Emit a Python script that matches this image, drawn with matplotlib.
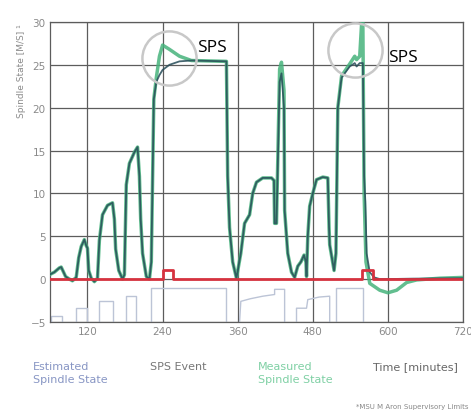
import matplotlib
matplotlib.use("Agg")
import matplotlib.pyplot as plt

plt.rcParams['font.family'] = ['DejaVu Sans']

# measured spindle state (green)
t_meas = [59, 67, 75, 78, 85, 91, 96, 102, 106, 110, 115, 118, 120, 122, 126, 131, 136,
          139, 144, 152, 160, 163, 165, 170, 176, 179, 182, 187, 195, 200, 203, 205, 208,
          214, 219, 222, 226, 230, 235, 240, 251, 267, 286, 342, 344, 347, 352, 358, 365,
          371, 379, 384, 390, 400, 414, 418, 419, 422, 427, 430, 434, 435, 440, 446, 451,
          456, 461, 466, 469, 470, 472, 475, 480, 486, 496, 504, 506, 507, 514, 517, 520,
          526, 539, 547, 550, 555, 558, 560, 562, 565, 571, 587, 600, 614, 630, 646, 683, 723]
v_meas = [0.5, 0.8, 1.3, 1.4, 0.3, 0.0, -0.2, 0.2, 2.5, 3.8, 4.6, 3.9, 3.6, 1.0, 0.1, -0.3, 0.1,
          4.5, 7.5, 8.6, 8.9, 7.0, 3.5, 1.0, 0.0, 0.5, 11.0, 13.5, 14.8, 15.4, 12.0, 7.0, 3.0,
          0.3, 0.0, 2.0, 21.0, 23.5, 26.0, 27.3, 26.8, 26.0, 25.5, 25.4, 12.0, 6.0, 2.0, 0.1, 3.0,
          6.5, 7.5, 10.0, 11.3, 11.8, 11.8, 11.5, 6.5, 6.5, 24.5, 25.3, 22.0, 8.0, 3.0, 0.8, 0.2,
          1.5, 2.0, 2.8, 2.0, 0.3, 5.0, 8.5, 10.0, 11.6, 11.9, 11.8, 6.0, 4.0, 1.0, 3.0, 20.0,
          23.7, 25.1, 26.0, 25.6, 26.0, 29.8, 30.0, 10.0, 2.0, -0.5, -1.3, -1.6, -1.3, -0.4, -0.1, 0.1, 0.2]

# estimated spindle state (dark)
t_est = [59, 67, 75, 78, 85, 91, 96, 102, 106, 110, 115, 118, 120, 122, 126, 131, 136,
         139, 144, 152, 160, 163, 165, 170, 176, 179, 182, 187, 195, 200, 203, 205, 208,
         214, 219, 222, 226, 230, 235, 240, 251, 267, 286, 342, 344, 347, 352, 358, 365,
         371, 379, 384, 390, 400, 414, 418, 419, 422, 427, 430, 434, 435, 440, 446, 451,
         456, 461, 466, 469, 470, 472, 475, 480, 486, 496, 504, 506, 507, 514, 517, 520,
         526, 539, 547, 550, 555, 560, 562, 564, 566, 571, 578, 587, 600, 640, 723]
v_est = [0.5, 0.8, 1.3, 1.4, 0.3, 0.0, -0.2, 0.2, 2.5, 3.8, 4.6, 3.9, 3.6, 1.0, 0.1, -0.3, 0.1,
         4.5, 7.5, 8.6, 8.9, 7.0, 3.5, 1.0, 0.0, 0.5, 11.0, 13.5, 14.8, 15.4, 12.0, 7.0, 3.0,
         0.3, 0.0, 2.0, 21.0, 23.0, 23.8, 24.4, 25.0, 25.4, 25.5, 25.4, 12.0, 6.0, 2.0, 0.1, 3.0,
         6.5, 7.5, 10.0, 11.3, 11.8, 11.8, 11.5, 6.5, 6.5, 23.0, 24.0, 20.0, 8.0, 3.0, 0.8, 0.2,
         1.5, 2.0, 2.8, 2.0, 0.3, 5.0, 8.5, 10.0, 11.6, 11.9, 11.8, 6.0, 4.0, 1.0, 3.0, 20.0,
         23.5, 24.8, 25.2, 24.8, 25.2, 25.2, 12.0, 9.0, 3.0, 0.8, 0.2, 0.0, 0.0, 0.05, 0.1]

# SPS events
sps_start = [240, 558]
sps_end = [256, 576]
sps_level = 1.0

# supervisory limit outlines (bottom)
limits = [
    ([62, 62, 80, 80], [-5, -4.3, -4.3, -5]),
    ([101, 101, 120, 120], [-5, -3.4, -3.4, -5]),
    ([139, 139, 160, 160], [-5, -2.6, -2.6, -5]),
    ([181, 181, 198, 198], [-5, -2.0, -2.0, -5]),
    ([222, 222, 342, 342], [-5, -1.0, -1.0, -5]),
    ([363, 365, 380, 400, 419, 419, 435, 435], [-5, -2.6, -2.3, -2.0, -1.8, -1.2, -1.2, -5]),
    ([454, 454, 470, 472, 490, 507, 507], [-5, -3.4, -3.4, -2.4, -2.1, -2.0, -5]),
    ([517, 517, 560, 560], [-5, -1.1, -1.1, -5]),
]

fig = plt.figure(figsize=(4.71, 4.14), dpi=100)
ax = fig.add_axes([0.106, 0.22, 0.877, 0.7246])

for lt, lv in limits:
    ax.plot(lt, lv, color='#bcc4d6', lw=1.0, zorder=2)

ax.plot(t_meas, v_meas, color='#46b37c', lw=2.5, alpha=0.85, zorder=3)
ax.plot(t_est, v_est, color='#264c58', lw=1.3, alpha=0.85, zorder=4)

# SPS event line
sps_t = [60]
sps_v = [0]
for s, e in zip(sps_start, sps_end):
    sps_t += [s, s, e, e]
    sps_v += [0, sps_level, sps_level, 0]
sps_t.append(720)
sps_v.append(0)
ax.plot(sps_t, sps_v, color='#d6323f', lw=2.0, zorder=5)

# circles marking SPS
ax.plot([251], [25.8], 'o', ms=39, mfc='none', mec='#c8c8c8', mew=1.8, zorder=6, clip_on=False)
ax.plot([548], [26.7], 'o', ms=39, mfc='none', mec='#c8c8c8', mew=1.8, zorder=6, clip_on=False)
ax.text(0.357, 0.917, 'SPS', transform=ax.transAxes, fontsize=12.5, color='black',
        family='Open Sans', va='center')
ax.text(0.819, 0.883, 'SPS', transform=ax.transAxes, fontsize=12.5, color='black',
        family='Open Sans', va='center')

ax.set_xlim(60, 720)
ax.set_ylim(-5, 30)
ax.set_xticks([120, 240, 360, 480, 600, 720])
ax.set_yticks([-5, 0, 5, 10, 15, 20, 25, 30])
ax.grid(True, color='#5c5c5c', lw=0.9)
ax.set_axisbelow(True)
for sp in ax.spines.values():
    sp.set_color('#5c5c5c')
    sp.set_linewidth(0.9)
ax.tick_params(length=0, labelsize=7.5, labelcolor='#8a8a8a', pad=3)

ax.text(-0.068, 0.84, 'Spindle State [M/S] \u00b9', transform=ax.transAxes, rotation=90,
        fontsize=6.5, color='#8a8a8a', ha='center', va='center')

fig.text(0.070, 0.126, 'Estimated\nSpindle State', fontsize=8, color='#8896c4',
         va='top', linespacing=1.45)
fig.text(0.318, 0.126, 'SPS Event', fontsize=8, color='#777777', va='top')
fig.text(0.548, 0.126, 'Measured\nSpindle State', fontsize=8, color='#7fd0a4',
         va='top', linespacing=1.45)
fig.text(0.792, 0.126, 'Time [minutes]', fontsize=8, color='#666666', va='top')
fig.text(0.995, 0.017, '*MSU M Aron Supervisory Limits', fontsize=5, color='#888888',
         ha='right', va='center')

fig.savefig('out.png', dpi=100)
